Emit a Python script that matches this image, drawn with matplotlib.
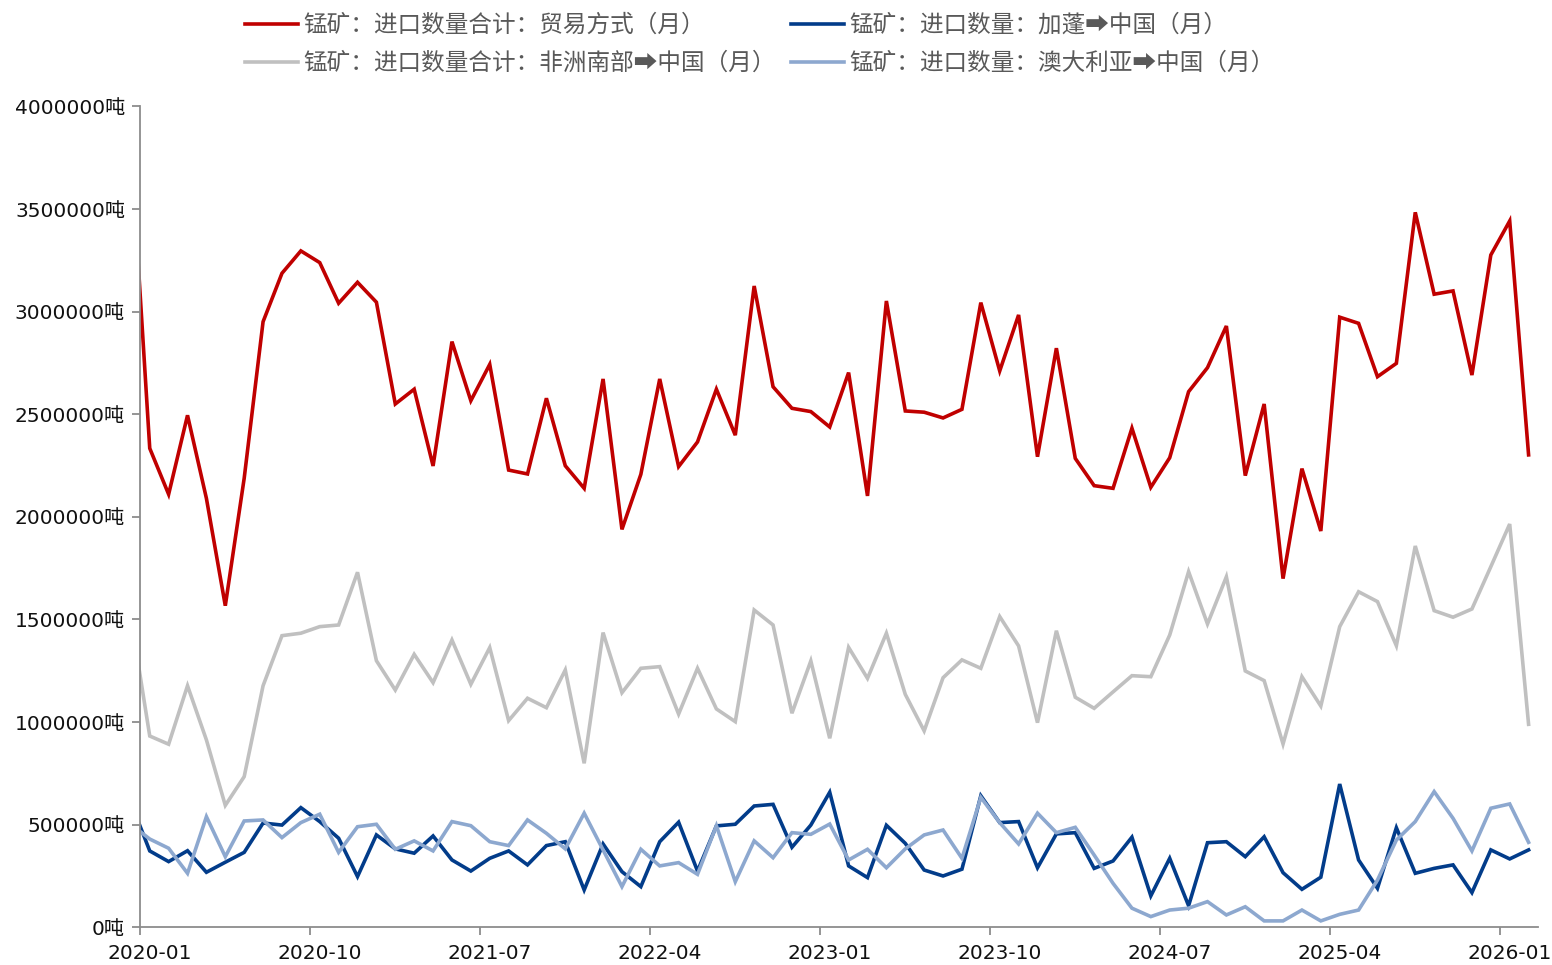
import numpy as np
import pandas as pd
import matplotlib
matplotlib.use('Agg')
import matplotlib.pyplot as plt
from matplotlib.transforms import ScaledTranslation

plt.rcParams['font.family'] = ['DejaVu Sans', 'Noto Sans CJK SC']

# monthly data, 2019-12 .. 2026-02 (the 2019-12 point is only seen clipped at the left edge)
months = pd.period_range('2019-12', '2026-02', freq='M')

total = [3812000, 2334000, 2110000, 2495000, 2090000, 1567000, 2188000, 2951000, 3187000, 3296000,
         3239000, 3041000, 3143000, 3046000, 2550000, 2622000, 2248000, 2854000, 2566000, 2743000,
         2228000, 2209000, 2578000, 2249000, 2139000, 2672000, 1939000, 2207000, 2672000, 2245000,
         2365000, 2622000, 2398000, 3125000, 2634000, 2529000, 2513000, 2438000, 2703000, 2102000,
         3052000, 2516000, 2510000, 2482000, 2524000, 3044000, 2711000, 2984000, 2293000, 2822000,
         2285000, 2152000, 2139000, 2432000, 2144000, 2288000, 2610000, 2727000, 2930000, 2201000,
         2550000, 1699000, 2235000, 1931000, 2973000, 2943000, 2683000, 2748000, 3484000, 3085000,
         3101000, 2691000, 3276000, 3442000, 2302000]

south_africa = [1510000, 932000, 892000, 1177000, 913000, 594000, 734000, 1177000, 1421000, 1433000,
                1465000, 1473000, 1730000, 1299000, 1156000, 1330000, 1192000, 1400000, 1184000, 1363000,
                1007000, 1116000, 1070000, 1254000, 799000, 1436000, 1143000, 1262000, 1270000, 1039000,
                1262000, 1064000, 1002000, 1546000, 1473000, 1043000, 1298000, 921000, 1364000, 1213000,
                1433000, 1135000, 957000, 1216000, 1303000, 1262000, 1514000, 1371000, 997000, 1445000,
                1121000, 1067000, 1147000, 1226000, 1221000, 1424000, 1733000, 1478000, 1708000, 1249000,
                1202000, 893000, 1221000, 1078000, 1465000, 1635000, 1587000, 1372000, 1858000, 1543000,
                1511000, 1551000, 1757000, 1965000, 989000]

gabon = [608000, 372000, 320000, 373000, 268000, 317000, 365000, 508000, 498000, 583000,
         515000, 434000, 247000, 450000, 382000, 361000, 445000, 328000, 274000, 336000,
         372000, 304000, 398000, 417000, 182000, 406000, 271000, 198000, 417000, 512000,
         274000, 494000, 502000, 591000, 599000, 390000, 498000, 658000, 299000, 242000,
         497000, 409000, 279000, 250000, 283000, 641000, 510000, 515000, 290000, 455000,
         461000, 287000, 323000, 439000, 153000, 336000, 105000, 412000, 417000, 344000,
         441000, 266000, 185000, 244000, 698000, 328000, 190000, 485000, 263000, 287000,
         304000, 169000, 377000, 333000, 377000]

australia = [502000, 430000, 385000, 263000, 539000, 344000, 518000, 523000, 437000, 510000,
             551000, 365000, 490000, 502000, 380000, 421000, 372000, 515000, 495000, 417000,
             398000, 523000, 458000, 382000, 556000, 377000, 198000, 380000, 299000, 315000,
             258000, 495000, 222000, 421000, 339000, 461000, 453000, 503000, 328000, 380000,
             290000, 382000, 450000, 474000, 336000, 633000, 510000, 406000, 556000, 461000,
             487000, 352000, 214000, 93000, 52000, 84000, 93000, 125000, 60000, 100000,
             31000, 31000, 84000, 31000, 63000, 84000, 230000, 425000, 515000, 661000,
             531000, 372000, 580000, 601000, 414000]

names = ['锰矿：进口数量合计：贸易方式（月）',
         '锰矿：进口数量：加蓬➡中国（月）',
         '锰矿：进口数量合计：非洲南部➡中国（月）',
         '锰矿：进口数量：澳大利亚➡中国（月）']
colors = ['#C00000', '#023C8A', '#C0C0C0', '#8DA8CF']

x_labels = ['2020-01', '2020-10', '2021-07', '2022-04', '2023-01',
            '2023-10', '2024-07', '2025-04', '2026-01']
y_ticks = [0, 500000, 1000000, 1500000, 2000000, 2500000, 3000000, 3500000, 4000000]

# x in months from 2020-01, points sit in the middle of their month
xpos = np.array([(p.year - 2020) * 12 + p.month - 1 for p in months]) + 0.5
xtick_pos = [(int(s[:4]) - 2020) * 12 + int(s[5:]) - 1 for s in x_labels]

fig = plt.figure(figsize=(15.52, 9.65), dpi=100)
ax = fig.add_axes([0.0904, 0.0391, 0.9006, 0.8506])

lines = []
for vals, name, c in zip([total, gabon, south_africa, australia], names, colors):
    ln, = ax.plot(xpos, vals, color=c, lw=2.6, label=name, solid_joinstyle='miter')
    lines.append(ln)

ax.set_xlim(0, 74)
ax.set_ylim(0, 4000000)
ax.set_xticks(xtick_pos)
ax.set_xticklabels(x_labels)
ax.set_yticks(y_ticks)
ax.set_yticklabels([f'{v}吨' for v in y_ticks])

for s in ['top', 'right']:
    ax.spines[s].set_visible(False)
for s in ['left', 'bottom']:
    ax.spines[s].set_color('#8c8c8c')
    ax.spines[s].set_linewidth(1.3)
ax.tick_params(axis='both', direction='out', length=6, width=1.3, color='#8c8c8c',
               labelsize=14.5, labelcolor='#111111')
ax.tick_params(axis='y', pad=5)
ax.tick_params(axis='x', pad=6)

# labels sit half a month right of their tick
off = ScaledTranslation(9.5 / 100, 0, fig.dpi_scale_trans)
for lbl in ax.get_xticklabels():
    lbl.set_transform(lbl.get_transform() + off)

order = [0, 2, 1, 3]
fig.legend([lines[i] for i in order], [names[i] for i in order], ncol=2,
           loc='upper left', bbox_to_anchor=(245 / 1552, 1 - 14 / 965),
           frameon=False, borderpad=0, borderaxespad=0,
           handlelength=2.25, handletextpad=0.22, columnspacing=0.64, labelspacing=0.63,
           labelcolor='#595959',
           prop={'family': ['Noto Sans CJK SC', 'DejaVu Sans'], 'size': 17})

fig.savefig('out.png', dpi=100)
